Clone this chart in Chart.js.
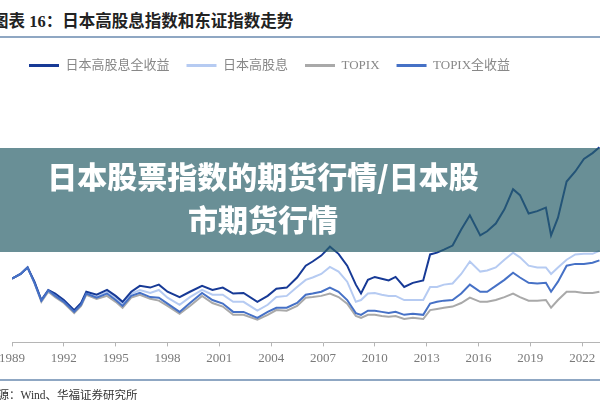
<!DOCTYPE html>
<html>
<head>
<meta charset="utf-8">
<script src="https://cdn.jsdelivr.net/npm/chart.js@4.4.0/dist/chart.umd.min.js"></script>
<style>
  html, body { margin: 0; padding: 0; background: #fff; }
  #page { position: relative; width: 600px; height: 400px; overflow: hidden; }
  #title { position: absolute; left: -8px; top: 8px; font: bold 16.5px 'Liberation Serif', 'Noto Sans CJK SC'; color: #222; white-space: nowrap; }
  .rule { position: absolute; left: 0; width: 600px; height: 2px; background: #8fa7c3; }
  #wrap { position: absolute; left: -50px; top: 0; width: 700px; height: 400px; }
  #banner { position: absolute; left: 0; top: 148px; width: 600px; height: 104px; background: rgba(42, 95, 105, 0.7);
            color: #fff; font: 900 30px 'Noto Sans CJK SC'; line-height: 43px; text-align: center; box-sizing: border-box;
            padding: 6px 74px 0 0; z-index: 2; white-space: nowrap; }
  #source { position: absolute; left: -37px; top: 386px; font: 11.5px 'Liberation Serif', 'Noto Sans CJK SC'; color: #333; white-space: nowrap; }
</style>
</head>
<body>
<div id="page">
  <div id="title">图表 16：日本高股息指数和东证指数走势</div>
  <div class="rule" style="top: 36px;"></div>
  <div id="wrap"><canvas id="trendChart"></canvas></div>
  <div id="banner">日本股票指数的期货行情/日本股<br>市期货行情</div>
  <div class="rule" style="top: 379px;"></div>
  <div id="source">资料来源：Wind、华福证券研究所</div>
</div>
<script>
// Dates (decimal years) and index values, 1989 start = 1.00
const years = [1989.0, 1989.5, 1989.9, 1990.3, 1990.7, 1991.1, 1991.5, 1992.0, 1992.6, 1993.0,
  1993.3, 1993.9, 1994.5, 1995.0, 1995.4, 1995.9, 1996.4, 1997.0, 1997.5, 1998.0,
  1998.7, 1999.3, 2000.0, 2000.6, 2001.2, 2001.8, 2002.4, 2003.2, 2003.8, 2004.3,
  2004.9, 2005.5, 2006.0, 2006.4, 2006.9, 2007.4, 2007.9, 2008.4, 2008.9, 2009.2,
  2009.6, 2010.0, 2010.4, 2010.8, 2011.2, 2011.7, 2012.2, 2012.8, 2013.2, 2013.6,
  2014.0, 2014.5, 2015.0, 2015.5, 2016.1, 2016.5, 2017.0, 2017.5, 2018.0, 2018.4,
  2018.9, 2019.4, 2019.9, 2020.2, 2020.6, 2021.1, 2021.6, 2022.1, 2022.6, 2023.0];

// 日本高股息全收益
const hdTotal = [1.00, 1.08, 1.19, 0.95, 0.64, 0.81, 0.75, 0.64, 0.47, 0.59,
  0.78, 0.73, 0.81, 0.71, 0.61, 0.78, 0.88, 0.85, 0.90, 0.78,
  0.69, 0.78, 0.88, 0.81, 0.85, 0.75, 0.76, 0.61, 0.71, 0.83,
  0.85, 1.02, 1.22, 1.29, 1.39, 1.54, 1.42, 1.22, 0.90, 0.75,
  0.98, 1.03, 1.00, 0.97, 1.03, 0.86, 0.93, 0.97, 1.41, 1.44,
  1.49, 1.56, 1.83, 2.07, 1.73, 1.80, 1.93, 2.17, 2.51, 2.41,
  2.10, 2.14, 2.20, 1.73, 2.03, 2.64, 2.81, 3.02, 3.12, 3.22];

// 日本高股息
const hdPrice = [1.00, 1.08, 1.19, 0.93, 0.63, 0.80, 0.73, 0.63, 0.46, 0.58,
  0.76, 0.69, 0.78, 0.68, 0.58, 0.75, 0.81, 0.76, 0.81, 0.68,
  0.56, 0.69, 0.81, 0.73, 0.73, 0.61, 0.61, 0.46, 0.56, 0.69,
  0.71, 0.86, 0.98, 1.02, 1.08, 1.20, 1.12, 0.95, 0.61, 0.64,
  0.75, 0.76, 0.73, 0.71, 0.71, 0.64, 0.64, 0.64, 0.86, 0.86,
  0.90, 0.92, 1.08, 1.29, 1.12, 1.14, 1.19, 1.32, 1.44, 1.36,
  1.22, 1.19, 1.19, 1.08, 1.19, 1.32, 1.41, 1.42, 1.42, 1.47];

// TOPIX
const topix = [1.00, 1.08, 1.19, 0.93, 0.61, 0.78, 0.69, 0.59, 0.42, 0.54,
  0.73, 0.66, 0.71, 0.61, 0.51, 0.68, 0.73, 0.66, 0.63, 0.54,
  0.41, 0.54, 0.71, 0.59, 0.53, 0.39, 0.39, 0.31, 0.39, 0.47,
  0.46, 0.54, 0.68, 0.69, 0.71, 0.75, 0.69, 0.58, 0.37, 0.34,
  0.39, 0.39, 0.37, 0.36, 0.37, 0.32, 0.34, 0.32, 0.47, 0.49,
  0.51, 0.53, 0.59, 0.68, 0.61, 0.61, 0.64, 0.69, 0.75, 0.69,
  0.63, 0.63, 0.64, 0.51, 0.64, 0.78, 0.78, 0.76, 0.76, 0.78];

// TOPIX全收益
const topixTotal = [1.00, 1.08, 1.19, 0.93, 0.63, 0.80, 0.71, 0.61, 0.44, 0.56,
  0.75, 0.68, 0.75, 0.64, 0.54, 0.71, 0.76, 0.69, 0.68, 0.58,
  0.44, 0.59, 0.76, 0.64, 0.58, 0.44, 0.44, 0.34, 0.44, 0.51,
  0.51, 0.59, 0.73, 0.75, 0.78, 0.85, 0.78, 0.64, 0.42, 0.39,
  0.46, 0.46, 0.44, 0.42, 0.44, 0.39, 0.41, 0.39, 0.58, 0.61,
  0.63, 0.64, 0.75, 0.90, 0.78, 0.78, 0.88, 0.98, 1.10, 1.02,
  0.93, 0.92, 0.93, 0.78, 0.95, 1.22, 1.25, 1.25, 1.27, 1.31];

const tickYears = [1989, 1992, 1995, 1998, 2001, 2004, 2007, 2010, 2013, 2016, 2019, 2022];

const toPoints = vals => years.map((x, i) => ({ x: x, y: vals[i] }));

const serif = "'Liberation Serif', 'Noto Sans CJK SC', serif";

const ctx = document.getElementById('trendChart').getContext('2d');
const trendChart = new Chart(ctx, {
  type: 'line',
  data: {
    datasets: [
      { label: '日本高股息全收益', data: toPoints(hdTotal), borderColor: '#173a96', backgroundColor: '#173a96', borderWidth: 2, order: 1 },
      { label: '日本高股息', data: toPoints(hdPrice), borderColor: '#b6cbf2', backgroundColor: '#b6cbf2', borderWidth: 2, order: 2 },
      { label: 'TOPIX', data: toPoints(topix), borderColor: '#a9a9a9', backgroundColor: '#a9a9a9', borderWidth: 2, order: 3 },
      { label: 'TOPIX全收益', data: toPoints(topixTotal), borderColor: '#4671c6', backgroundColor: '#4671c6', borderWidth: 2, order: 0 }
    ]
  },
  options: {
    responsive: true,
    maintainAspectRatio: false,
    animation: false,
    layout: { padding: { left: 62, right: 16, top: 42, bottom: 30 } },
    elements: {
      point: { radius: 0 },
      line: { tension: 0 }
    },
    plugins: {
      legend: {
        position: 'top',
        align: 'start',
        labels: {
          usePointStyle: true,
          pointStyle: 'line',
          pointStyleWidth: 30,
          padding: 17,
          color: '#888',
          font: { family: serif, size: 13 },
          generateLabels: chart => Chart.defaults.plugins.legend.labels.generateLabels(chart)
            .map(item => Object.assign(item, { lineWidth: 3 })),
          sort: (a, b) => a.datasetIndex - b.datasetIndex
        }
      },
      tooltip: { enabled: false }
    },
    scales: {
      x: {
        type: 'linear',
        min: 1989,
        max: 2025,
        afterBuildTicks: scale => { scale.ticks = tickYears.map(v => ({ value: v })); },
        ticks: {
          callback: v => String(v),
          autoSkip: false,
          maxRotation: 0,
          padding: 4,
          color: '#7a7a7a',
          font: { family: serif, size: 13 }
        },
        grid: { drawOnChartArea: false, tickLength: 4, color: '#b5b5b5' },
        border: { color: '#b5b5b5' }
      },
      y: { display: false, min: -0.075, max: 4.32 }
    }
  }
});
</script>
</body>
</html>
